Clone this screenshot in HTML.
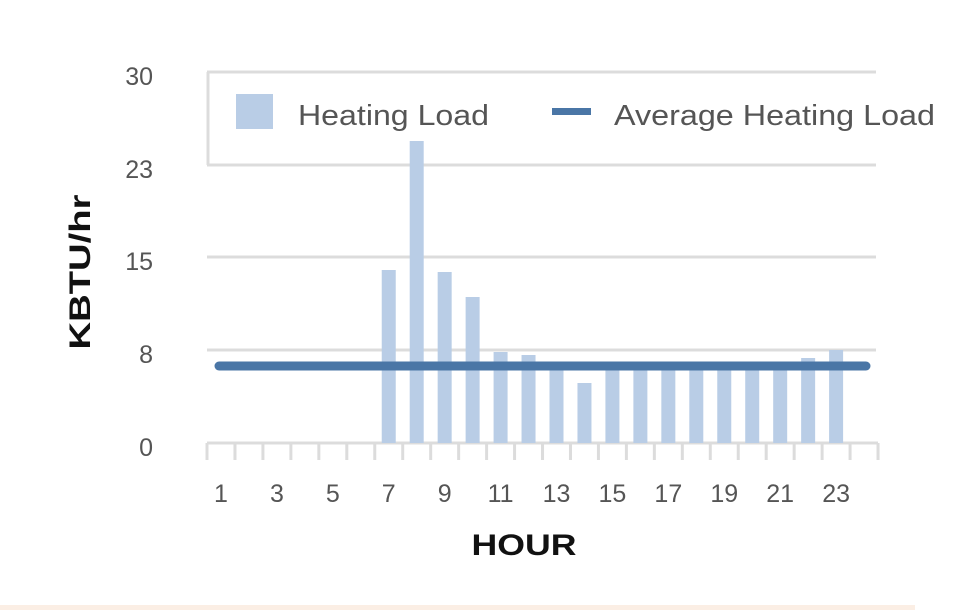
<!DOCTYPE html>
<html><head><meta charset="utf-8"><style>html,body{margin:0;padding:0;background:#fff;}svg{display:block}</style></head>
<body>
<svg width="960" height="610" viewBox="0 0 960 610" xmlns="http://www.w3.org/2000/svg" font-family="Liberation Sans, sans-serif">
<rect width="960" height="610" fill="#fff"/>
<rect x="0" y="605" width="915" height="5" fill="#fbeee4"/>
<g stroke="#dcdcdc" stroke-width="3">
<line x1="207" y1="72" x2="876" y2="72"/>
<line x1="207" y1="165" x2="876" y2="165"/>
<line x1="207" y1="257" x2="876" y2="257"/>
<line x1="207" y1="350" x2="876" y2="350"/>
<line x1="207" y1="443" x2="878" y2="443"/>
<line x1="208" y1="72" x2="208" y2="165"/>
</g>
<g stroke="#dcdcdc" stroke-width="3" id="ticks"></g>
<g fill="#b9cde6" id="bars"></g>
<line x1="219" y1="366" x2="866" y2="366" stroke="#4a76a6" stroke-width="9" stroke-linecap="round"/>
<rect x="236" y="94" width="37" height="35" fill="#b9cde6"/>
<text x="298" y="125" font-size="29" fill="#555" textLength="191" lengthAdjust="spacingAndGlyphs">Heating Load</text>
<rect x="552" y="108" width="39" height="7" fill="#4a76a6"/>
<text x="614" y="125" font-size="29" fill="#555" textLength="321" lengthAdjust="spacingAndGlyphs">Average Heating Load</text>
<g font-size="25" fill="#555" text-anchor="end">
<text x="153" y="85">30</text>
<text x="153" y="178">23</text>
<text x="153" y="270">15</text>
<text x="153" y="363">8</text>
<text x="153" y="456">0</text>
</g>
<text transform="translate(90,272) rotate(-90)" font-size="30" font-weight="bold" text-anchor="middle" fill="#111" textLength="155" lengthAdjust="spacingAndGlyphs">KBTU/hr</text>
<g font-size="25" fill="#555" text-anchor="middle" id="xl"></g>
<text x="524" y="555" font-size="30" font-weight="bold" text-anchor="middle" fill="#111" textLength="105" lengthAdjust="spacingAndGlyphs">HOUR</text>
<script>
var ns="http://www.w3.org/2000/svg",w=27.96,x0=207;
var t=document.getElementById('ticks');
for(var i=0;i<=24;i++){var l=document.createElementNS(ns,'line');var x=x0+i*w;l.setAttribute('x1',x);l.setAttribute('x2',x);l.setAttribute('y1',443);l.setAttribute('y2',460);t.appendChild(l);}
var v={7:270,8:141,9:272,10:297,11:352,12:355,13:368,14:383,15:365,16:364,17:364,18:364,19:364,20:364,21:364,22:358,23:350};
var b=document.getElementById('bars');
for(var h in v){var r=document.createElementNS(ns,'rect');var c=x0+(h-0.5)*w;r.setAttribute('x',c-7);r.setAttribute('width',14);r.setAttribute('y',v[h]);r.setAttribute('height',443-v[h]);b.appendChild(r);}
var xl=document.getElementById('xl');
for(var h=1;h<=23;h+=2){var tx=document.createElementNS(ns,'text');tx.setAttribute('x',x0+(h-0.5)*w);tx.setAttribute('y',502);tx.textContent=h;xl.appendChild(tx);}
</script>
</svg>
</body></html>
